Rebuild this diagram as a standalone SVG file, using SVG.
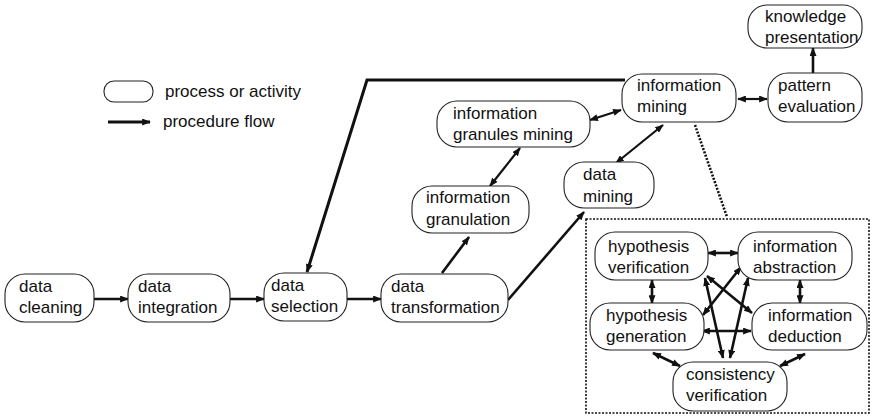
<svg xmlns="http://www.w3.org/2000/svg" width="874" height="419" viewBox="0 0 874 419">
<defs>
<marker id="ah" viewBox="0 0 10 8" refX="9" refY="4" markerWidth="9" markerHeight="7" markerUnits="userSpaceOnUse" orient="auto-start-reverse">
<path d="M0,0 L10,4 L0,8 Z" fill="#111"/>
</marker>
</defs>
<style>
.n rect{fill:#fff;stroke:#222;stroke-width:1.1}
text{font-family:"Liberation Sans",Arial,sans-serif;font-size:17px;fill:#111}
.c line,.c polyline{stroke:#111;stroke-width:2.6;fill:none}
.one{marker-end:url(#ah)}
.two{marker-start:url(#ah);marker-end:url(#ah)}
.dot{stroke:#111;stroke-width:1.6;stroke-dasharray:2 1.5;fill:none}
</style>
<rect width="874" height="419" fill="#fff"/>

<g id="legend">
<rect x="104" y="81" width="49" height="21" rx="10" fill="#fff" stroke="#222" stroke-width="1.1"/>
<text x="165" y="97">process or activity</text>
<line x1="108" y1="122" x2="150" y2="122" class="one" stroke="#111" stroke-width="3"/>
<text x="163" y="127">procedure flow</text>
</g>

<g class="c" id="connectors">
<line x1="94" y1="299" x2="128" y2="299" class="one"/>
<line x1="230" y1="299" x2="264" y2="299" class="one"/>
<line x1="347" y1="299" x2="381" y2="299" class="one"/>
<polyline points="625,80 367,80 307,272" class="one" style="stroke-width:3"/>
<line x1="442" y1="273" x2="469" y2="237" class="one"/>
<line x1="490" y1="186" x2="520" y2="148" class="two" style="stroke-width:2.2"/>
<line x1="508" y1="300" x2="584" y2="212" class="one"/>
<line x1="590" y1="120" x2="621" y2="110" class="two" style="stroke-width:2.2"/>
<line x1="663" y1="125" x2="616" y2="163" class="two" style="stroke-width:2.2"/>
<line x1="738" y1="99" x2="767" y2="99" class="two" style="stroke-width:2.2"/>
<line x1="813" y1="73" x2="813" y2="48" class="one"/>
<line x1="695" y1="125" x2="727" y2="217" class="dot"/>
<rect x="586" y="219" width="283" height="194" class="dot"/>
<line x1="708" y1="253" x2="738" y2="253" class="two"/>
<line x1="652" y1="280" x2="652" y2="303" class="two"/>
<line x1="800" y1="280" x2="800" y2="303" class="two"/>
<line x1="702" y1="331" x2="751" y2="331" class="two"/>
<line x1="707" y1="276" x2="752" y2="313" class="two"/>
<line x1="703" y1="315" x2="741" y2="267" class="two"/>
<line x1="705" y1="278" x2="723" y2="358" class="two"/>
<line x1="748" y1="278" x2="730" y2="358" class="two"/>
<line x1="653" y1="353" x2="680" y2="366" class="two"/>
<line x1="805" y1="354" x2="780" y2="366" class="two"/>
</g>

<g class="n" id="data-cleaning"><rect x="5" y="274" width="89" height="48" rx="20"/><text x="19" y="292">data</text><text x="19" y="313">cleaning</text></g>
<g class="n" id="data-integration"><rect x="128" y="274" width="102" height="48" rx="20"/><text x="138" y="292">data</text><text x="138" y="313">integration</text></g>
<g class="n" id="data-selection"><rect x="264" y="273" width="83" height="48" rx="20"/><text x="271" y="291">data</text><text x="271" y="312">selection</text></g>
<g class="n" id="data-transformation"><rect x="381" y="274" width="127" height="48" rx="20"/><text x="391" y="292">data</text><text x="391" y="313">transformation</text></g>
<g class="n" id="information-granulation"><rect x="412" y="186" width="117" height="47" rx="20"/><text x="426" y="203">information</text><text x="426" y="225">granulation</text></g>
<g class="n" id="information-granules-mining"><rect x="437" y="101" width="153" height="46" rx="20"/><text x="453" y="119">information</text><text x="453" y="140">granules mining</text></g>
<g class="n" id="data-mining"><rect x="564" y="162" width="90" height="46" rx="20"/><text x="583" y="180">data</text><text x="583" y="202">mining</text></g>
<g class="n" id="information-mining"><rect x="622" y="74" width="114" height="48" rx="20"/><text x="637" y="91">information</text><text x="637" y="112">mining</text></g>
<g class="n" id="pattern-evaluation"><rect x="768" y="73" width="94" height="49" rx="20"/><text x="778" y="91">pattern</text><text x="778" y="112">evaluation</text></g>
<g class="n" id="knowledge-presentation"><rect x="748" y="5" width="114" height="43" rx="19"/><text x="765" y="22">knowledge</text><text x="765" y="43">presentation</text></g>

<g class="n" id="hypothesis-verification"><rect x="595" y="232" width="113" height="48" rx="20"/><text x="608" y="252">hypothesis</text><text x="608" y="273">verification</text></g>
<g class="n" id="information-abstraction"><rect x="738" y="232" width="114" height="48" rx="20"/><text x="753" y="252">information</text><text x="753" y="273">abstraction</text></g>
<g class="n" id="hypothesis-generation"><rect x="590" y="303" width="114" height="47" rx="20"/><text x="606" y="321">hypothesis</text><text x="606" y="342">generation</text></g>
<g class="n" id="information-deduction"><rect x="752" y="303" width="115" height="47" rx="20"/><text x="768" y="321">information</text><text x="768" y="342">deduction</text></g>
<g class="n" id="consistency-verification"><rect x="673" y="362" width="114" height="49" rx="20"/><text x="686" y="380">consistency</text><text x="686" y="401">verification</text></g>
</svg>
